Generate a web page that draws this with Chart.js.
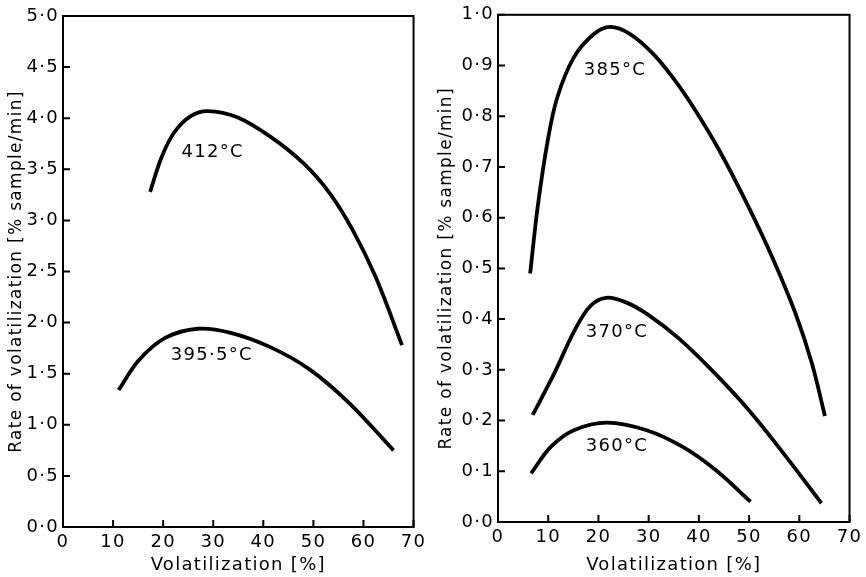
<!DOCTYPE html>
<html>
<head>
<meta charset="utf-8">
<script src="https://cdn.jsdelivr.net/npm/chart.js@4.4.1/dist/chart.umd.min.js"></script>
<style>
  body { margin: 0; background: #fff; }
  #wrap { position: relative; width: 866px; height: 577px; }
  canvas { position: absolute; top: 0; }
</style>
</head>
<body>
<div id="wrap">
  <canvas id="left" width="430" height="577" style="left:0"></canvas>
  <canvas id="right" width="436" height="577" style="left:430px"></canvas>
</div>
<script>
const xTicks = [0, 10, 20, 30, 40, 50, 60, 70];
// left panel
const x412 = [17.4, 19.7, 22.2, 25.5, 28.9, 34.8, 41.4, 48.0, 53.2, 57.8, 62.4, 67.7];
const y412 = [3.28, 3.62, 3.86, 4.02, 4.07, 4.01, 3.82, 3.56, 3.27, 2.91, 2.45, 1.78];
const x395 = [11.1, 15.1, 20.4, 26.9, 33.5, 41.4, 49.3, 57.2, 66.0];
const y395 = [1.34, 1.63, 1.85, 1.94, 1.90, 1.76, 1.54, 1.21, 0.75];
// right panel
const x385 = [6.4, 7.9, 9.9, 11.8, 15.1, 19.1, 22.3, 26.3, 30.9, 34.9, 39.4, 44.0, 49.3, 54.6, 59.2, 62.5, 65.1];
const y385 = [0.49, 0.621, 0.752, 0.837, 0.916, 0.962, 0.976, 0.962, 0.923, 0.875, 0.81, 0.734, 0.633, 0.522, 0.412, 0.313, 0.209];
const x370 = [6.9, 11.2, 15.1, 18.3, 21.5, 25.5, 30.0, 36.0, 43.0, 50.0, 57.2, 64.4];
const y370 = [0.211, 0.293, 0.375, 0.425, 0.442, 0.433, 0.408, 0.362, 0.295, 0.220, 0.131, 0.037];
const x360 = [6.6, 10.5, 15.1, 21.7, 29.6, 36.8, 43.4, 50.3];
const y360 = [0.096, 0.148, 0.181, 0.196, 0.181, 0.148, 0.102, 0.04];

const leftLabels = [['412°C', 29.9, 3.67], ['395·5°C', 29.7, 1.68]];
const rightLabels = [['385°C', 23.3, 0.89], ['370°C', 23.7, 0.374], ['360°C', 23.7, 0.15]];

const FONT = 'DejaVu Sans';
const pts = (xs, ys) => xs.map((x, i) => ({ x: x, y: ys[i] }));
const dot = v => v.toFixed(1).replace('.', '·');

const line = (data) => ({
  data: data,
  showLine: true,
  borderColor: '#000',
  borderWidth: 3.8,
  pointRadius: 0,
  tension: 0.35,
  fill: false
});

// wider letter spacing, like the original lettering
const spacingPlugin = {
  id: 'spacing',
  beforeDraw(chart) { chart.ctx.letterSpacing = '1.3px'; }
};

// frame, inward ticks and curve labels
const framePlugin = {
  id: 'frame',
  afterDraw(chart, args, opts) {
    const ctx = chart.ctx;
    const a = chart.chartArea;
    const xs = chart.scales.x, ys = chart.scales.y;
    ctx.save();
    ctx.strokeStyle = '#000';
    ctx.lineWidth = 2;
    ctx.strokeRect(a.left, a.top, a.right - a.left, a.bottom - a.top);
    ctx.beginPath();
    xs.ticks.forEach(t => {
      const px = xs.getPixelForValue(t.value);
      ctx.moveTo(px, a.bottom);
      ctx.lineTo(px, a.bottom - 7);
    });
    ys.ticks.forEach(t => {
      const py = ys.getPixelForValue(t.value);
      ctx.moveTo(a.left, py);
      ctx.lineTo(a.left + 7, py);
    });
    ctx.stroke();
    ctx.fillStyle = '#000';
    ctx.font = '18px "' + FONT + '"';
    ctx.textAlign = 'center';
    ctx.textBaseline = 'middle';
    opts.labels.forEach(l => {
      ctx.fillText(l[0], xs.getPixelForValue(l[1]), ys.getPixelForValue(l[2]));
    });
    ctx.restore();
  }
};

function makeChart(id, sets, yMax, yStep, yWidth, xHeight, pad, labels) {
  return new Chart(document.getElementById(id), {
    type: 'scatter',
    data: { datasets: sets.map(line) },
    options: {
      responsive: false,
      animation: false,
      layout: { padding: pad },
      plugins: { legend: { display: false }, tooltip: { enabled: false }, frame: { labels: labels } },
      scales: {
        x: {
          min: 0, max: 70,
          afterBuildTicks: s => { s.ticks = xTicks.map(v => ({ value: v })); },
          afterFit: s => { s.height = xHeight; },
          grid: { display: false, drawTicks: false },
          border: { display: false },
          ticks: { color: '#000', padding: 5, maxRotation: 0, font: { family: FONT, size: 18 } },
          title: { display: true, text: 'Volatilization [%]', color: '#000', padding: { top: 0, bottom: 1 }, font: { family: FONT, size: 18 } }
        },
        y: {
          min: 0, max: yMax,
          ticks: { stepSize: yStep, color: '#000', padding: 4, callback: v => dot(v), font: { family: FONT, size: 18 } },
          afterFit: s => { s.width = yWidth; },
          grid: { display: false, drawTicks: false },
          border: { display: false },
          title: { display: true, text: 'Rate of volatilization [% sample/min]', color: '#000', padding: { top: 6, bottom: 0 }, font: { family: FONT, size: 17 } }
        }
      }
    },
    plugins: [spacingPlugin, framePlugin]
  });
}

makeChart('left', [pts(x412, y412), pts(x395, y395)], 5, 0.5, 63,  50,
  { top: 16, right: 13, left: 0, bottom: 0 }, leftLabels);
makeChart('right', [pts(x385, y385), pts(x370, y370), pts(x360, y360)], 1, 0.1, 68, 55,
  { top: 14, right: 11, left: 0, bottom: 0 }, rightLabels);
</script>
</body>
</html>
